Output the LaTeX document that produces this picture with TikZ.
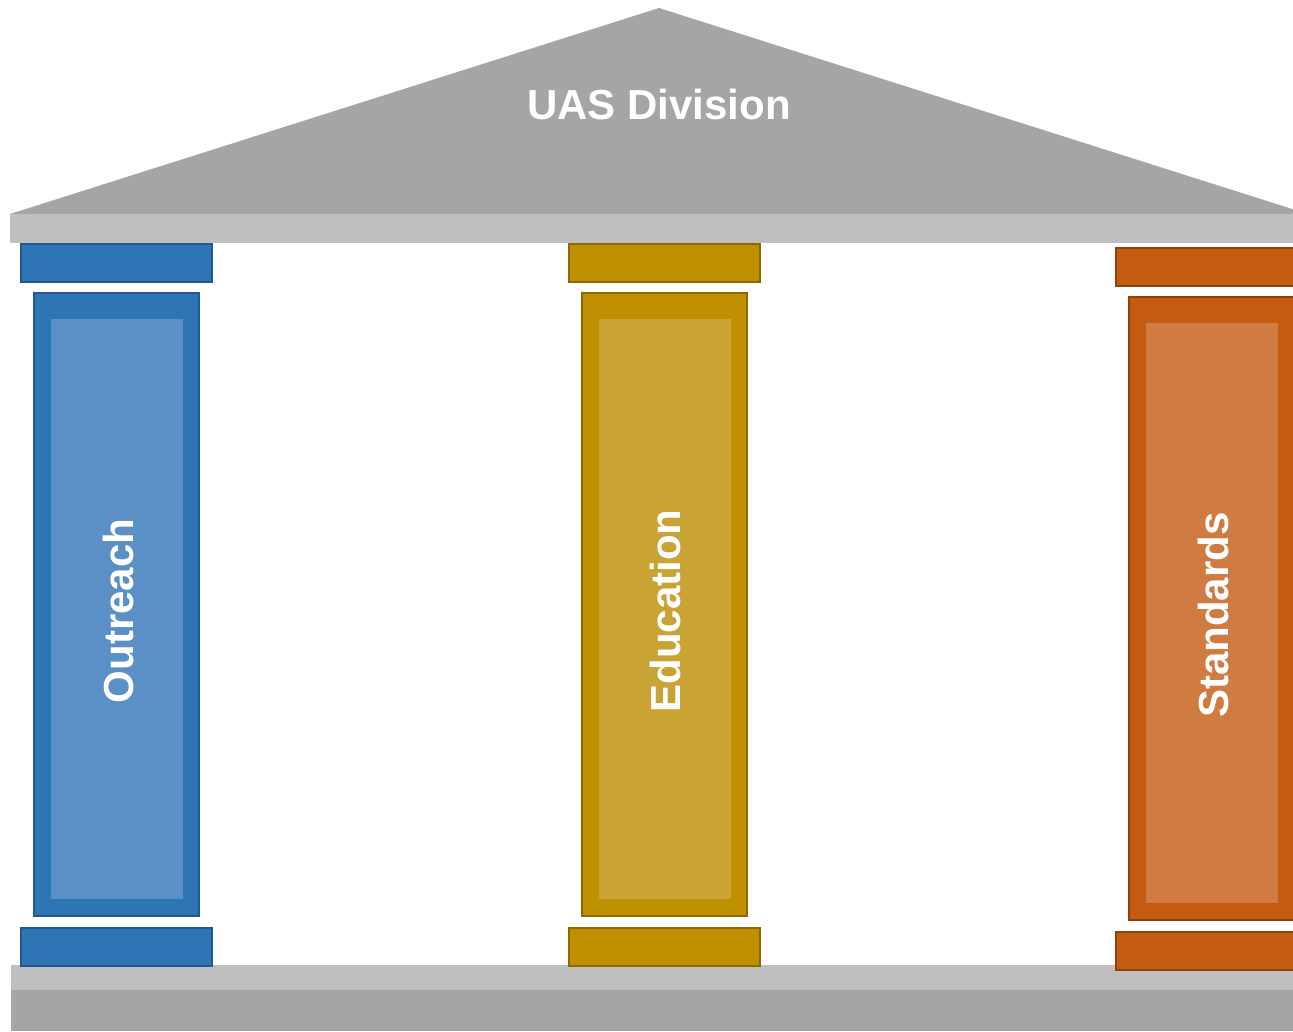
\documentclass[tikz,border=0pt]{standalone}
\usepackage{fontspec}
\setmainfont{Liberation Sans}

\definecolor{roofgray}{HTML}{A5A5A5}
\definecolor{beamgray}{HTML}{BFBFBF}
\definecolor{blue}{HTML}{2E75B6}
\definecolor{blueline}{HTML}{22588F}
\definecolor{bluelight}{HTML}{5B90C6}
\definecolor{gold}{HTML}{BF9000}
\definecolor{goldline}{HTML}{8C6A00}
\definecolor{goldlight}{HTML}{C9A434}
\definecolor{orange}{HTML}{C55A11}
\definecolor{orangeline}{HTML}{8F410C}
\definecolor{orangelight}{HTML}{D07B41}

\tikzset{
  slab/.style={rectangle, inner sep=0pt, fill=#1, draw=#1line, line width=2pt,
    minimum width=191pt, minimum height=38pt},
  shaft/.style={rectangle, inner sep=0pt, fill=#1, draw=#1line, line width=2pt,
    minimum width=165pt, minimum height=623pt},
  fluting/.style={rectangle, inner sep=0pt, fill=#1light,
    minimum width=132pt, minimum height=580pt},
  biglabel/.style={text=white, font=\bfseries\fontsize{42}{42}\selectfont, inner sep=0pt}
}

\begin{document}
\begin{tikzpicture}[x=1pt, y=-1pt]
    \useasboundingbox (0,0) rectangle (1293,1031);
    \clip (0,0) rectangle (1293,1031);

    % roof and beam
    \fill[roofgray] (10,214) -- (659,8) -- (1308,214) -- cycle;
    \node[biglabel] (title) at (659,104) {UAS Division};
    \fill[beamgray] (10,214) rectangle (1300,243);

    % steps
    \fill[beamgray] (11,965) rectangle (1300,990);
    \fill[roofgray] (11,990) rectangle (1300,1031);

    % pillars
    \foreach \name/\col/\x/\dy/\txt in {outreach/blue/116.5/0/Outreach,
        education/gold/664/0/Education, standards/orange/1211.5/4/Standards} {
        \node[slab=\col] (\name cap) at (\x,263+\dy) {};
        \node[shaft=\col] (\name shaft) at (\x,604.5+\dy) {};
        \node[fluting=\col] (\name inner) at (\x+0.5,609+\dy) {};
        \node[slab=\col] (\name base) at (\x,946.5+\dy) {};
        \node[biglabel, rotate=90] (\name text) at (\x+1.5,611+\dy) {\txt};
    }
\end{tikzpicture}
\end{document}
